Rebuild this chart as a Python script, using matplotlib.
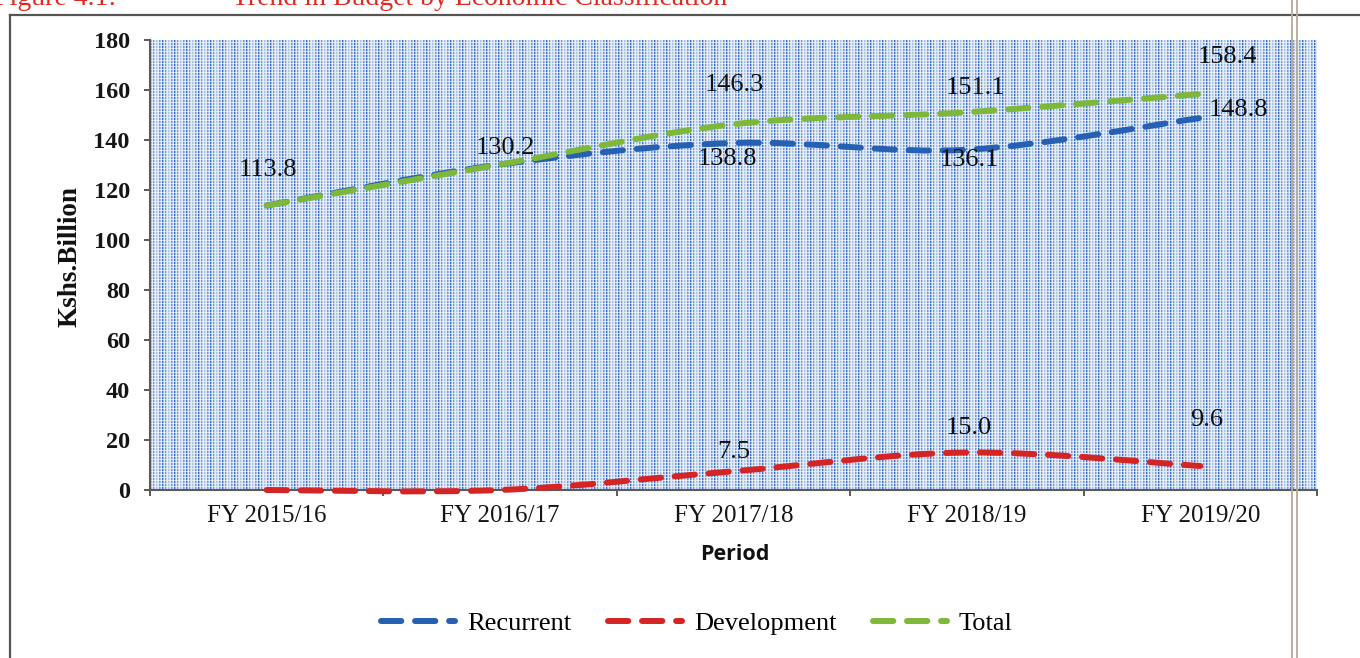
import numpy as np
import matplotlib
matplotlib.use("Agg")
import matplotlib.pyplot as plt
from matplotlib.path import Path
from matplotlib.patches import PathPatch
from matplotlib.lines import Line2D

# ---- data -------------------------------------------------------------
periods = ["FY 2015/16", "FY 2016/17", "FY 2017/18", "FY 2018/19", "FY 2019/20"]
recurrent = [113.8, 130.2, 138.8, 136.1, 148.8]
development = [0.0, 0.0, 7.5, 15.0, 9.6]
total = [113.8, 130.2, 146.3, 151.1, 158.4]

# which points carry a value label
show_recurrent = [False, False, True, True, True]
show_development = [False, False, True, True, True]
show_total = [True, True, True, True, True]

y_ticks = [0, 20, 40, 60, 80, 100, 120, 140, 160, 180]

# ---- styling ----------------------------------------------------------
SERIF = "Liberation Serif"
C_REC = "#2560b2"
C_DEV = "#d42424"
C_TOT = "#7db83a"
DASH = (0, (3.4, 2.3))
LW = 4.3

W_PX, H_PX = 1360, 658
fig = plt.figure(figsize=(W_PX / 100, H_PX / 100), dpi=100)
fig.patch.set_facecolor("white")

ax_l, ax_r, ax_t, ax_b = 150, 1317, 40, 490
ax = fig.add_axes([ax_l / W_PX, 1 - ax_b / H_PX,
                   (ax_r - ax_l) / W_PX, (ax_b - ax_t) / H_PX])

# dotted blue plot-area fill
tw, th = ax_r - ax_l, ax_b - ax_t
xs = np.arange(tw)
ys = np.arange(th)
col = np.select([xs % 3 == 0, xs % 3 == 1], [1.0, 0.45], 0.05)
mod = 0.5 + 0.5 * np.cos(2 * np.pi * xs / 12.0)
row = np.where(ys % 3 == 2, 0.2, 1.0)
alpha = 0.85 * np.outer(row, col * (0.35 + 0.65 * mod)) + 0.10
dot = np.array([40, 100, 200]) / 255.0
img = 1 - np.clip(alpha, 0, 1)[..., None] * (1 - dot)
ax.imshow(img, extent=(0, 1, 0, 1), transform=ax.transAxes,
          aspect="auto", interpolation="nearest", zorder=0)


def smooth_path(xv, yv):
    """Cardinal-spline (Bezier) path through the points, like Excel's smoothed line."""
    n = len(xv)
    verts = [(xv[0], yv[0])]
    codes = [Path.MOVETO]
    for i in range(n - 1):
        p0 = i - 1 if i > 0 else i
        p3 = i + 2 if i + 2 < n else i + 1
        c1 = (xv[i] + (xv[i + 1] - xv[p0]) / 6, yv[i] + (yv[i + 1] - yv[p0]) / 6)
        c2 = (xv[i + 1] - (xv[p3] - xv[i]) / 6, yv[i + 1] - (yv[p3] - yv[i]) / 6)
        verts += [c1, c2, (xv[i + 1], yv[i + 1])]
        codes += [Path.CURVE4] * 3
    return Path(verts, codes)


x = np.arange(len(periods))
for vals, color, z in [(recurrent, C_REC, 3), (development, C_DEV, 4), (total, C_TOT, 5)]:
    patch = PathPatch(smooth_path(list(x), list(vals)), facecolor="none",
                      edgecolor=color, lw=LW, linestyle=DASH, zorder=z,
                      clip_on=False)
    patch.set_capstyle("round")
    ax.add_patch(patch)

ax.set_xlim(-0.5, 4.5)
ax.set_ylim(0, 180)

# value labels (offsets in pixels)
lab_kw = dict(textcoords="offset points", ha="center", va="center",
              fontsize=19, family=SERIF, color="#111111", zorder=6)
px = 0.72
tot_off = [(1, 35), (5, 16), (1, 39), (9, 24), (27, 37)]
rec_off = [(0, 0), (0, 0), (-6, -16), (2, -10), (38, 8)]
dev_off = [(0, 0), (0, 0), (0, 19), (2, 25), (6, 46)]
for vals, show, offs in [(total, show_total, tot_off),
                         (recurrent, show_recurrent, rec_off),
                         (development, show_development, dev_off)]:
    for i, (v, s, (dx, dy)) in enumerate(zip(vals, show, offs)):
        if s:
            ax.annotate(f"{v:.1f}", (i, v), xytext=(dx * px, dy * px), **lab_kw)

# axes, ticks
for side in ("top", "right"):
    ax.spines[side].set_visible(False)
for side in ("left", "bottom"):
    ax.spines[side].set_color("#5a5a5a")
    ax.spines[side].set_linewidth(1.5)

ax.set_yticks(y_ticks)
ax.set_yticklabels([str(t) for t in y_ticks], family=SERIF, fontsize=17.5,
                   fontweight="bold", color="#151515")
ax.tick_params(axis="y", length=4.5, width=1.4, color="#5a5a5a", pad=10)

ax.set_xticks(np.arange(-0.5, 5.0, 1.0))
ax.set_xticklabels([])
ax.tick_params(axis="x", which="major", length=4.5, width=1.4, color="#5a5a5a")
ax.set_xticks(x, minor=True)
ax.set_xticklabels(periods, minor=True, family=SERIF, fontsize=18, color="#151515")
ax.tick_params(axis="x", which="minor", length=0, pad=11)

ax.set_ylabel("Kshs.Billion", family=SERIF, fontsize=19.5, fontweight="bold",
              color="#111111", va="center")
ax.yaxis.set_label_coords((70 - ax_l) / tw, (ax_b - 257) / th)
ax.set_xlabel("Period", family="Open Sans", fontsize=15.5, fontweight="bold",
              color="#111111", va="center")
ax.xaxis.set_label_coords((735 - ax_l) / tw, -(555 - ax_b) / th)

# legend
handles = [Line2D([], [], color=c, lw=LW, linestyle=DASH, dash_capstyle="round")
           for c in (C_REC, C_DEV, C_TOT)]
fig.legend(handles, ["Recurrent", "Development", "Total"], loc="center",
           bbox_to_anchor=(697 / W_PX, 1 - 623 / H_PX), ncol=3, frameon=False,
           prop={"family": SERIF, "size": 19}, handlelength=2.8,
           handletextpad=0.45, columnspacing=1.4)

# chart frame
frame_kw = dict(transform=fig.transFigure, color="#555555", lw=1.6)
fig.add_artist(Line2D([10 / W_PX, 1.0], [1 - 15 / H_PX, 1 - 15 / H_PX], **frame_kw))
fig.add_artist(Line2D([10 / W_PX, 10 / W_PX], [0, 1 - 15 / H_PX], **frame_kw))
for xv in (1292, 1297):
    fig.add_artist(Line2D([xv / W_PX, xv / W_PX], [0, 1], transform=fig.transFigure,
                          color="#b3aa9c", lw=1.3, zorder=10))

# caption line above the chart
fig.text(-6 / W_PX, 1 - 5 / H_PX, "Figure 4.1:", color="#e02a20", family=SERIF,
         fontsize=20, va="baseline", ha="left")
fig.text(232 / W_PX, 1 - 5 / H_PX, "Trend in Budget by Economic Classification",
         color="#e02a20", family=SERIF, fontsize=20, va="baseline", ha="left")

fig.savefig("out.png", dpi=100)
